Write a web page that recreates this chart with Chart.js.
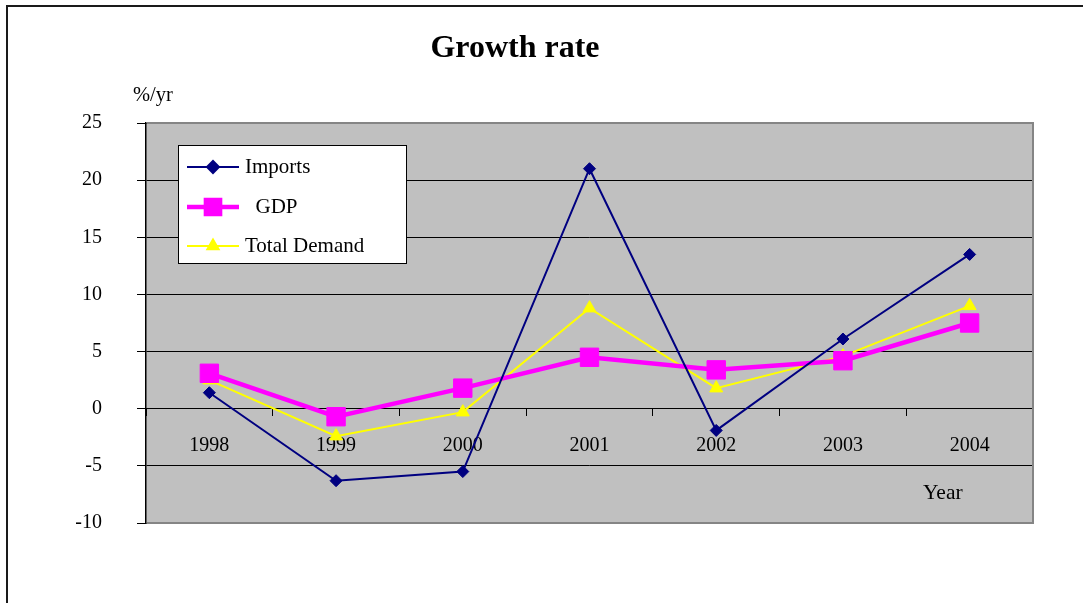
<!DOCTYPE html>
<html>
<head>
<meta charset="utf-8">
<title>Growth rate</title>
<script src="https://cdn.jsdelivr.net/npm/chart.js@4/dist/chart.umd.min.js"></script>
<style>
  body { margin: 0; background: #fff; }
</style>
</head>
<body>
<canvas id="growthChart" width="1083" height="603"></canvas>
<script>
/* ================= Data ================= */

const years = ['1998', '1999', '2000', '2001', '2002', '2003', '2004'];
const imports = [1.4, -6.3, -5.5, 21.0, -1.9, 6.1, 13.5];
const gdp = [3.1, -0.7, 1.8, 4.5, 3.4, 4.2, 7.5];
const totalDemand = [2.5, -2.4, -0.3, 8.8, 1.8, 4.6, 9.0];
const seriesNames = ['Imports', '  GDP', 'Total Demand'];
const yTicks = [-10, -5, 0, 5, 10, 15, 20, 25];

const serif = "'Liberation Serif', 'Times New Roman', serif";

Chart.defaults.font.family = serif;
Chart.defaults.font.size = 20;
Chart.defaults.color = '#000';

/* ================= Extras: frame, title, axis notes, legend box ================= */

const legendMarks = [6, 10, 6.5];

const decorations = {
  id: 'decorations',
  beforeDraw(chart) {
    const { ctx, chartArea: a } = chart;
    ctx.save();
    ctx.fillStyle = '#fff';
    ctx.fillRect(0, 0, chart.width, chart.height);
    ctx.strokeStyle = '#1a1a1a';
    ctx.lineWidth = 2;
    ctx.beginPath();
    ctx.moveTo(7, chart.height);
    ctx.lineTo(7, 6);
    ctx.lineTo(chart.width, 6);
    ctx.stroke();
    ctx.fillStyle = '#c0c0c0';
    ctx.fillRect(a.left, a.top, a.right - a.left, a.bottom - a.top);
    ctx.restore();
  },
  beforeDatasetsDraw(chart) {
    const { ctx, chartArea: a } = chart;
    ctx.save();
    ctx.strokeStyle = '#858585';
    ctx.lineWidth = 2;
    ctx.beginPath();
    ctx.moveTo(a.left + 1, a.top);
    ctx.lineTo(a.right, a.top);
    ctx.lineTo(a.right, a.bottom);
    ctx.lineTo(a.left + 1, a.bottom);
    ctx.stroke();
    ctx.restore();
  },
  afterDraw(chart) {
    const { ctx } = chart;
    ctx.save();
    ctx.fillStyle = '#000';
    ctx.textBaseline = 'alphabetic';
    ctx.textAlign = 'center';
    ctx.font = 'bold 32px ' + serif;
    ctx.fillText('Growth rate', 515, 57);
    ctx.textAlign = 'left';
    ctx.font = '20.5px ' + serif;
    ctx.fillText('%/yr', 133, 101);
    ctx.font = '21.5px ' + serif;
    ctx.fillText('Year', 923, 499);

    // legend box
    ctx.fillStyle = '#fff';
    ctx.fillRect(178, 145, 228, 118);
    ctx.strokeStyle = '#000';
    ctx.lineWidth = 1;
    ctx.strokeRect(178.5, 145.5, 228, 118);
    const rows = [167, 207, 246];
    chart.data.datasets.forEach((ds, i) => {
      const y = rows[i];
      ctx.strokeStyle = ds.borderColor;
      ctx.lineWidth = ds.borderWidth;
      ctx.beginPath();
      ctx.moveTo(187, y);
      ctx.lineTo(239, y);
      ctx.stroke();
      ctx.fillStyle = ds.pointBackgroundColor;
      ctx.strokeStyle = ds.pointBorderColor;
      Chart.helpers.drawPoint(ctx, {
        pointStyle: ds.pointStyle,
        radius: legendMarks[i],
        rotation: 0,
        borderWidth: 1
      }, 213, y);
      ctx.fillStyle = '#000';
      ctx.font = '21px ' + serif;
      ctx.textBaseline = 'middle';
      ctx.fillText(ds.label, 245, y);
    });
    ctx.restore();
  }
};

/* ================= Line Chart ================= */

const ctx = document.getElementById('growthChart');

new Chart(ctx, {
  type: 'line',
  data: {
    labels: years,
    datasets: [{
      label: seriesNames[0],
      data: imports,
      borderColor: '#000080',
      borderWidth: 2,
      pointStyle: 'rectRot',
      pointRadius: 6,
      pointBackgroundColor: '#000080',
      pointBorderColor: '#000080',
      pointBorderWidth: 1
    }, {
      label: seriesNames[1],
      data: gdp,
      borderColor: '#ff00ff',
      borderWidth: 4.5,
      pointStyle: 'rect',
      pointRadius: 13,
      pointBackgroundColor: '#ff00ff',
      pointBorderColor: '#ff00ff',
      pointBorderWidth: 1
    }, {
      label: seriesNames[2],
      data: totalDemand,
      borderColor: '#ffff00',
      borderWidth: 2,
      pointStyle: 'triangle',
      pointRadius: 7.5,
      pointBackgroundColor: '#ffff00',
      pointBorderColor: '#ffff00',
      pointBorderWidth: 1
    }]
  },
  options: {
    responsive: false,
    animation: false,
    events: [],
    layout: {
      padding: { left: 0, top: 123, right: 50, bottom: 80 }
    },
    plugins: {
      legend: { display: false },
      title: { display: false },
      tooltip: { enabled: false }
    },
    scales: {
      x: {
        position: { y: 0 },
        offset: true,
        grid: {
          offset: true,
          drawOnChartArea: false,
          drawTicks: true,
          tickLength: 7,
          color: '#000'
        },
        border: { color: '#000', width: 1 },
        ticks: { padding: 18, maxRotation: 0, color: '#000' }
      },
      y: {
        min: -10,
        max: 25,
        afterBuildTicks: scale => {
          scale.ticks = yTicks.map(v => ({ value: v }));
        },
        afterFit: scale => {
          scale.width = 146;
        },
        grid: {
          color: '#000',
          lineWidth: 1,
          tickLength: 9
        },
        border: { color: '#000', width: 1.5 },
        ticks: { padding: 35, color: '#000' }
      }
    }
  },
  plugins: [decorations]
});
</script>
</body>
</html>
